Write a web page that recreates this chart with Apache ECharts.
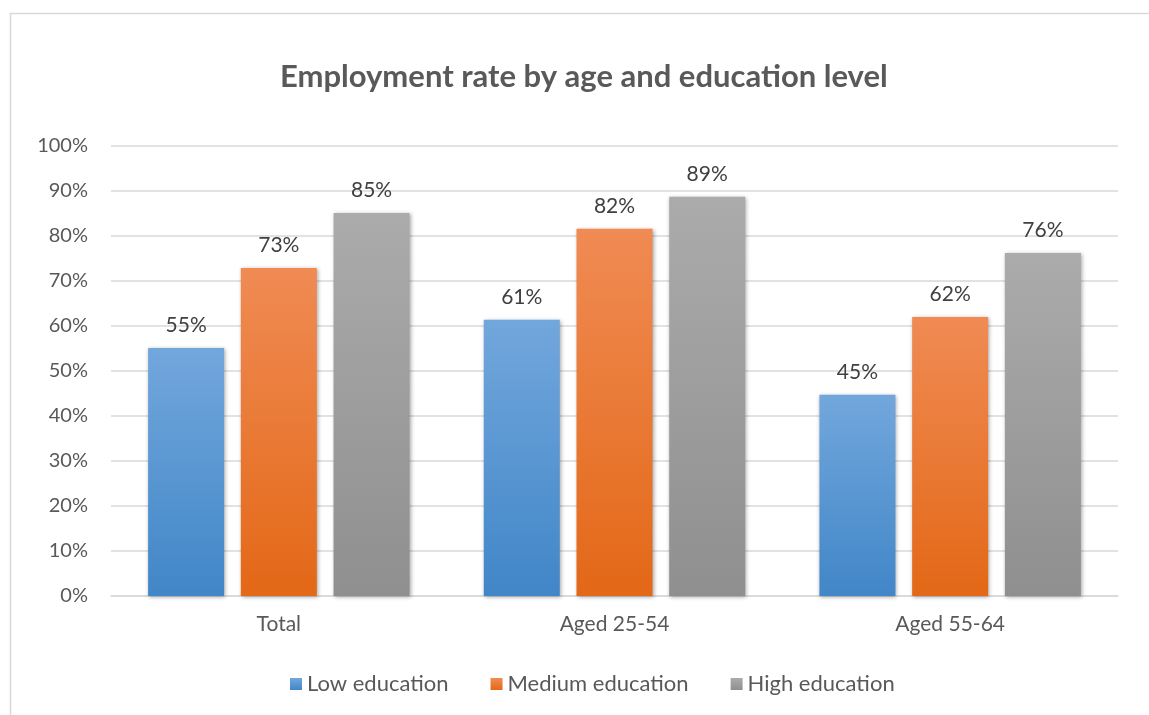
<!DOCTYPE html>
<html lang="en">
<head>
    <meta charset="UTF-8">
    <title>Employment rate</title>
    <script src="https://cdn.jsdelivr.net/npm/echarts@6/dist/echarts.min.js"></script>
    <style>
        body { margin: 0; background: #fff; }
    </style>
</head>
<body>
<div id="main" style="width: 1149px;height:715px;"></div>
<script>
    // categories and values (percent)
    var categories = ['Total', 'Aged 25-54', 'Aged 55-64'];
    var lowEdu = [55.1, 61.4, 44.7];
    var mediumEdu = [72.9, 81.6, 62.0];
    var highEdu = [85.1, 88.7, 76.2];
    var yTicks = [0, 10, 20, 30, 40, 50, 60, 70, 80, 90, 100];

    var font = 'Lato, "Open Sans", sans-serif';

    function grad(top, bottom) {
        return new echarts.graphic.LinearGradient(0, 0, 0, 1, [
            {offset: 0, color: top},
            {offset: 1, color: bottom}
        ]);
    }

    var labelOpt = {
        show: true,
        position: 'top',
        distance: 12,
        color: '#404040',
        fontFamily: font,
        fontSize: 21,
        formatter: function (p) { return Math.round(p.value) + '%'; }
    };

    function barSeries(name, data, top, bottom) {
        return {
            name: name,
            type: 'bar',
            data: data,
            barWidth: 76,
            barGap: '22%',
            label: labelOpt,
            itemStyle: {
                color: grad(top, bottom),
                shadowBlur: 4,
                shadowColor: 'rgba(0,0,0,0.35)',
                shadowOffsetX: 1,
                shadowOffsetY: 1
            }
        };
    }

    var myChart = echarts.init(document.getElementById('main'));

    var option = {
        backgroundColor: '#fff',
        animation: false,
        title: {
            text: 'Employment rate by age and education level',
            left: 275,
            top: 56,
            textStyle: {
                color: '#595959',
                fontFamily: font,
                fontSize: 31,
                fontWeight: 'bold'
            }
        },
        graphic: [{
            type: 'rect',
            shape: {x: 10.5, y: 13.5, width: 1150, height: 720},
            style: {fill: 'none', stroke: '#d9d9d9', lineWidth: 1.5},
            silent: true
        }],
        legend: {
            bottom: 15,
            left: 285,
            itemWidth: 12,
            itemHeight: 12,
            itemGap: 42,
            icon: 'rect',
            textStyle: {color: '#595959', fontFamily: font, fontSize: 22},
            data: ['Low education', 'Medium education', 'High education']
        },
        grid: {
            left: 111,
            right: 31,
            top: 146,
            bottom: 119
        },
        xAxis: {
            type: 'category',
            data: categories,
            axisTick: {show: false},
            axisLine: {lineStyle: {color: '#d9d9d9', width: 1.5}},
            axisLabel: {color: '#595959', fontFamily: font, fontSize: 21, margin: 18}
        },
        yAxis: {
            type: 'value',
            min: yTicks[0],
            max: yTicks[yTicks.length - 1],
            interval: 10,
            axisLine: {show: false},
            axisTick: {show: false},
            splitLine: {lineStyle: {color: '#d9d9d9', width: 1.5}},
            axisLabel: {
                color: '#595959',
                fontFamily: font,
                fontSize: 20,
                margin: 23,
                formatter: '{value}%'
            }
        },
        series: [
            barSeries('Low education', lowEdu, '#72a7dc', '#4186c8'),
            barSeries('Medium education', mediumEdu, '#f08b54', '#e36817'),
            barSeries('High education', highEdu, '#ababab', '#8f8f8f')
        ]
    };
    myChart.setOption(option);
</script>
</body>
</html>
